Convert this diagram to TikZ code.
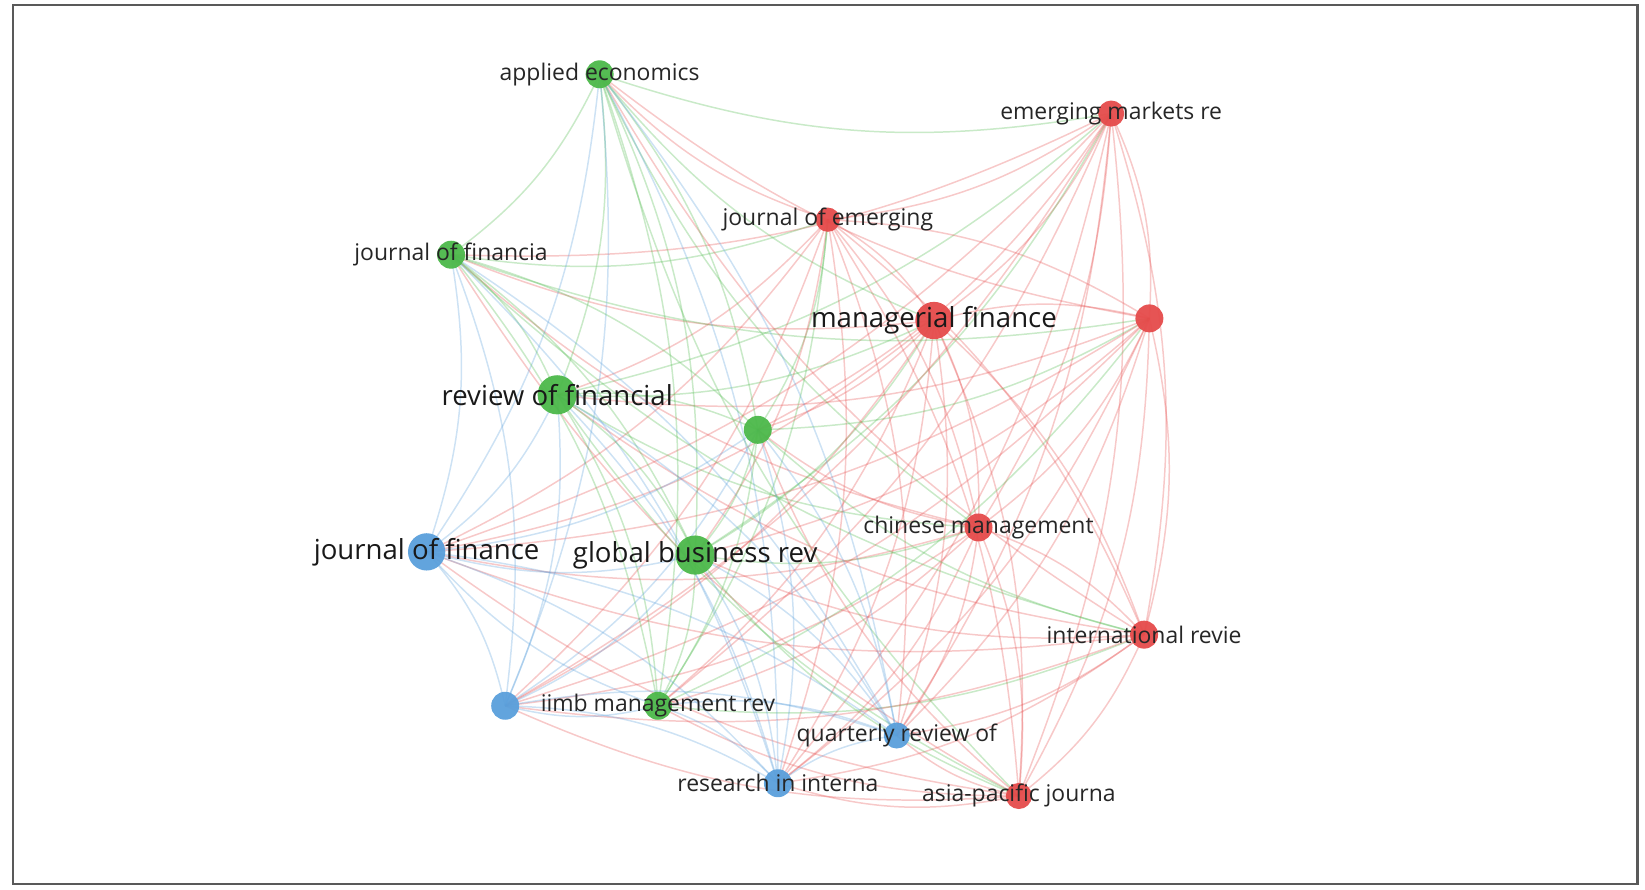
\documentclass[tikz,border=0pt]{standalone}
\usepackage{fontspec}
\setmainfont{Open Sans}
\definecolor{cr}{HTML}{E54B4B}
\definecolor{cg}{HTML}{4CB84A}
\definecolor{cb}{HTML}{5A9FDB}
\begin{document}
\begin{tikzpicture}[x=0.02cm,y=-0.02cm,
  edge/.style={line width=0.8pt,opacity=0.3,bend left=14},
  dot/.style={circle,inner sep=0pt,fill=#1,draw=none,opacity=0.95},
  lab/.style={font=\fontsize{12.3}{15}\selectfont,text=black!85},
  biglab/.style={font=\fontsize{14.8}{18}\selectfont,text=black!90}]
\path[use as bounding box] (0,0) rectangle (1550,838);
\draw[black!65,line width=1.2pt] (12,5) rectangle (1543,833);
\coordinate (EM) at (1047,107);
\coordinate (JE) at (780,207);
\coordinate (MF) at (880,302);
\coordinate (R1) at (1083,300);
\coordinate (CM) at (922,497);
\coordinate (IR) at (1078,598);
\coordinate (AP) at (960,750);
\coordinate (AE) at (565,70);
\coordinate (JF) at (425,240);
\coordinate (RF) at (525,372);
\coordinate (G1) at (714,405);
\coordinate (GB) at (655,523);
\coordinate (IIMB) at (620,665);
\coordinate (JoF) at (402,520);
\coordinate (B1) at (476,665);
\coordinate (RI) at (733,738);
\coordinate (QR) at (845,693);
\foreach \a [count=\i] in {EM,JE,MF,R1,CM,IR,AP,AE,JF,RF,G1,GB,IIMB,JoF,B1,RI,QR}{
  \foreach \b [count=\j] in {EM,JE,MF,R1,CM,IR,AP,AE,JF,RF,G1,GB,IIMB,JoF,B1,RI,QR}{
    \ifnum\j>\i
      \ifnum\i<8
        \ifnum\j<8 \draw[edge,cr] (\a) to (\b);
        \else\ifnum\j<14
          \ifodd\numexpr\i+\j\relax \draw[edge,cg] (\a) to (\b);
          \else \draw[edge,cr] (\a) to (\b); \fi
        \else \draw[edge,cr] (\a) to (\b); \fi\fi
      \else\ifnum\i<14
        \ifnum\j<14 \draw[edge,cg] (\a) to (\b);
        \else \draw[edge,cb] (\a) to (\b); \fi
      \else \draw[edge,cb] (\a) to (\b);
      \fi\fi
    \fi
  }
}
\node[dot=cr,minimum size=14pt] (nEM) at (EM) {};
\node[dot=cr,minimum size=13pt] (nJE) at (JE) {};
\node[dot=cr,minimum size=20pt] (nMF) at (MF) {};
\node[dot=cr,minimum size=15pt] (nR1) at (R1) {};
\node[dot=cr,minimum size=15pt] (nCM) at (CM) {};
\node[dot=cr,minimum size=15pt] (nIR) at (IR) {};
\node[dot=cr,minimum size=14pt] (nAP) at (AP) {};
\node[dot=cg,minimum size=15pt] (nAE) at (AE) {};
\node[dot=cg,minimum size=15pt] (nJF) at (JF) {};
\node[dot=cg,minimum size=21pt] (nRF) at (RF) {};
\node[dot=cg,minimum size=15pt] (nG1) at (G1) {};
\node[dot=cg,minimum size=21pt] (nGB) at (GB) {};
\node[dot=cg,minimum size=15pt] (nIIMB) at (IIMB) {};
\node[dot=cb,minimum size=20pt] (nJoF) at (JoF) {};
\node[dot=cb,minimum size=15pt] (nB1) at (B1) {};
\node[dot=cb,minimum size=15pt] (nRI) at (RI) {};
\node[dot=cb,minimum size=14pt] (nQR) at (QR) {};
\node[lab] (tEM) at (EM) {emerging markets re};
\node[lab] (tJE) at (JE) {journal of emerging};
\node[biglab] (tMF) at (MF) {managerial finance};
\node[lab] (tCM) at (CM) {chinese management};
\node[lab] (tIR) at (IR) {international revie};
\node[lab] (tAP) at (AP) {asia-pacific journa};
\node[lab] (tAE) at (AE) {applied economics};
\node[lab] (tJF) at (JF) {journal of financia};
\node[biglab] (tRF) at (RF) {review of financial};
\node[biglab] (tGB) at (GB) {global business rev};
\node[lab] (tIIMB) at (IIMB) {iimb management rev};
\node[biglab] (tJoF) at (JoF) {journal of finance};
\node[lab] (tRI) at (RI) {research in interna};
\node[lab] (tQR) at (QR) {quarterly review of};
\end{tikzpicture}
\end{document}
